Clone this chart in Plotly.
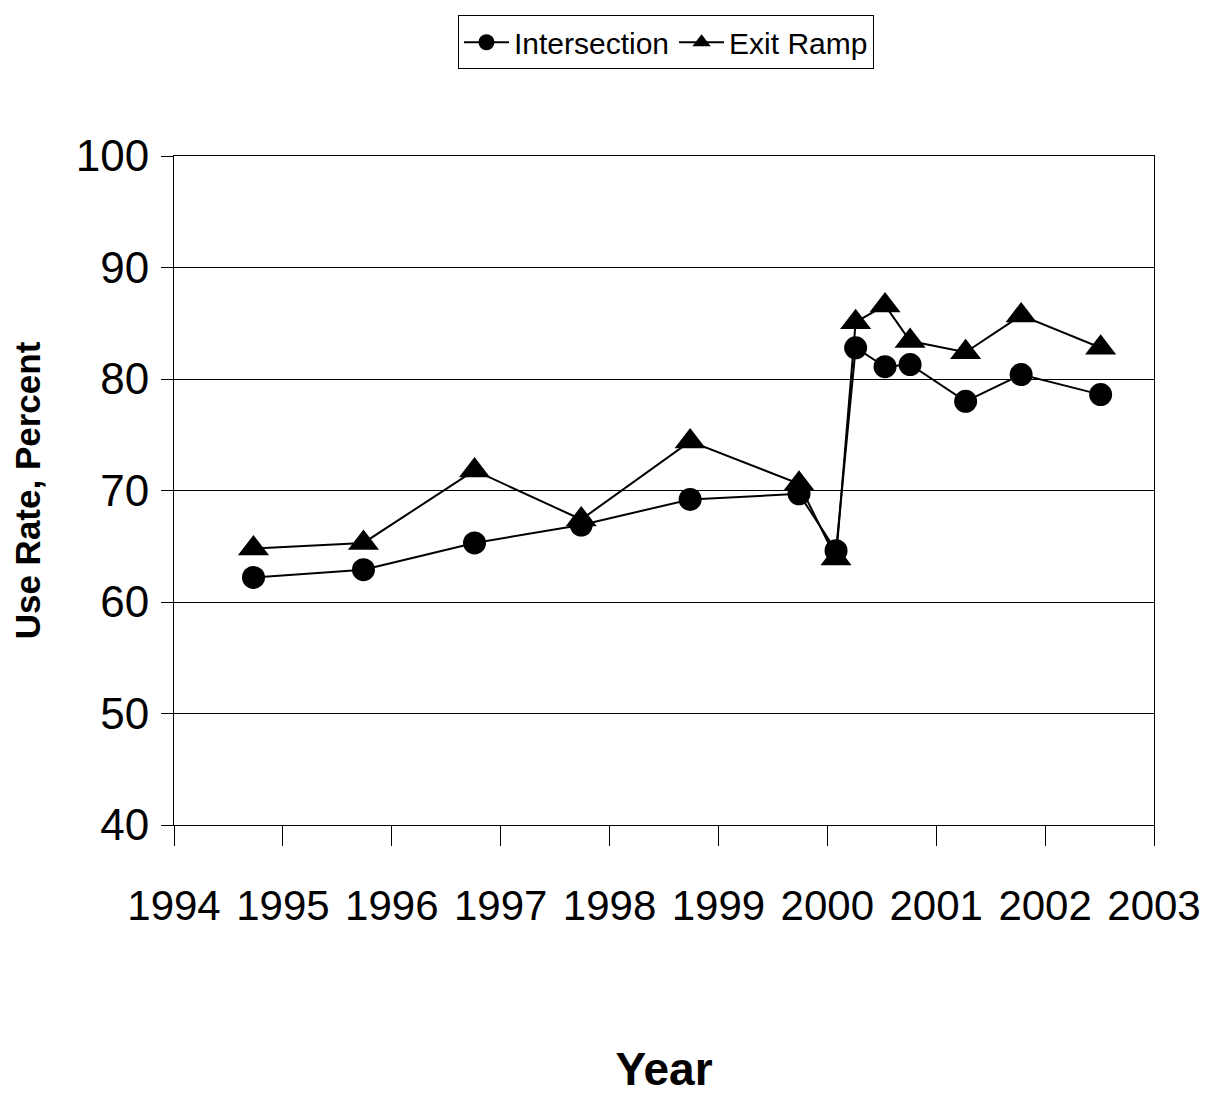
import plotly.graph_objects as go

years_int = [1994.73, 1995.74, 1996.76, 1997.74, 1998.74, 1999.74, 2000.08, 2000.26, 2000.53, 2000.76, 2001.27, 2001.78, 2002.51]
intersection = [62.2, 62.9, 65.3, 66.9, 69.2, 69.7, 64.6, 82.8, 81.1, 81.3, 78.0, 80.4, 78.6]
years_ramp = [1994.73, 1995.74, 1996.76, 1997.74, 1998.74, 1999.74, 2000.08, 2000.26, 2000.53, 2000.76, 2001.27, 2001.78, 2002.51]
exit_ramp = [64.8, 65.3, 71.8, 67.4, 74.4, 70.6, 63.9, 85.1, 86.6, 83.4, 82.4, 85.7, 82.8]
tick_years = list(range(1994, 2004))
y_ticks = [40, 50, 60, 70, 80, 90, 100]

FONT = "Liberation Sans, Arial, sans-serif"

fig = go.Figure()
fig.add_trace(go.Scatter(
    x=years_int, y=intersection, name="Intersection", mode="lines+markers",
    line=dict(color="black", width=2),
    marker=dict(symbol="circle", size=23, color="black"),
))
fig.add_trace(go.Scatter(
    x=years_ramp, y=exit_ramp, name="Exit Ramp", mode="lines+markers",
    line=dict(color="black", width=2),
    marker=dict(symbol="triangle-up", size=27, color="black"),
))

fig.update_layout(
    width=1218, height=1099,
    paper_bgcolor="white", plot_bgcolor="white",
    margin=dict(l=166, r=72, t=148, b=282, autoexpand=False),
    font=dict(family=FONT, color="black"),
    showlegend=True,
    legend=dict(
        orientation="h", x=0.502, xanchor="center", y=1.17, yanchor="middle",
        bordercolor="black", borderwidth=1, bgcolor="white",
        font=dict(family=FONT, size=30, color="black"),
        itemwidth=45,
    ),
)
fig.update_xaxes(
    range=[1994, 2003], tickvals=tick_years, ticktext=[str(y) for y in tick_years],
    showgrid=False, zeroline=False, automargin=False,
    showline=True, linecolor="black", linewidth=1, mirror=True,
    ticks="outside", ticklen=20, tickcolor="black",
    tickfont=dict(family=FONT, size=42, color="black"),
    ticklabelstandoff=24,
    title=dict(text="<b>Year</b>", font=dict(family=FONT, size=46, color="black"), standoff=124),
)
fig.update_yaxes(
    range=[40, 100], tickvals=y_ticks,
    showgrid=True, gridcolor="black", gridwidth=1, zeroline=False, automargin=False,
    showline=True, linecolor="black", linewidth=1, mirror=True,
    ticks="outside", ticklen=12, tickcolor="black",
    tickfont=dict(family=FONT, size=44, color="black"),
    ticklabelstandoff=3,
    title=dict(text="<b>Use Rate, Percent</b>", font=dict(family=FONT, size=35, color="black"), standoff=24),
)

fig.write_html("out.html")
